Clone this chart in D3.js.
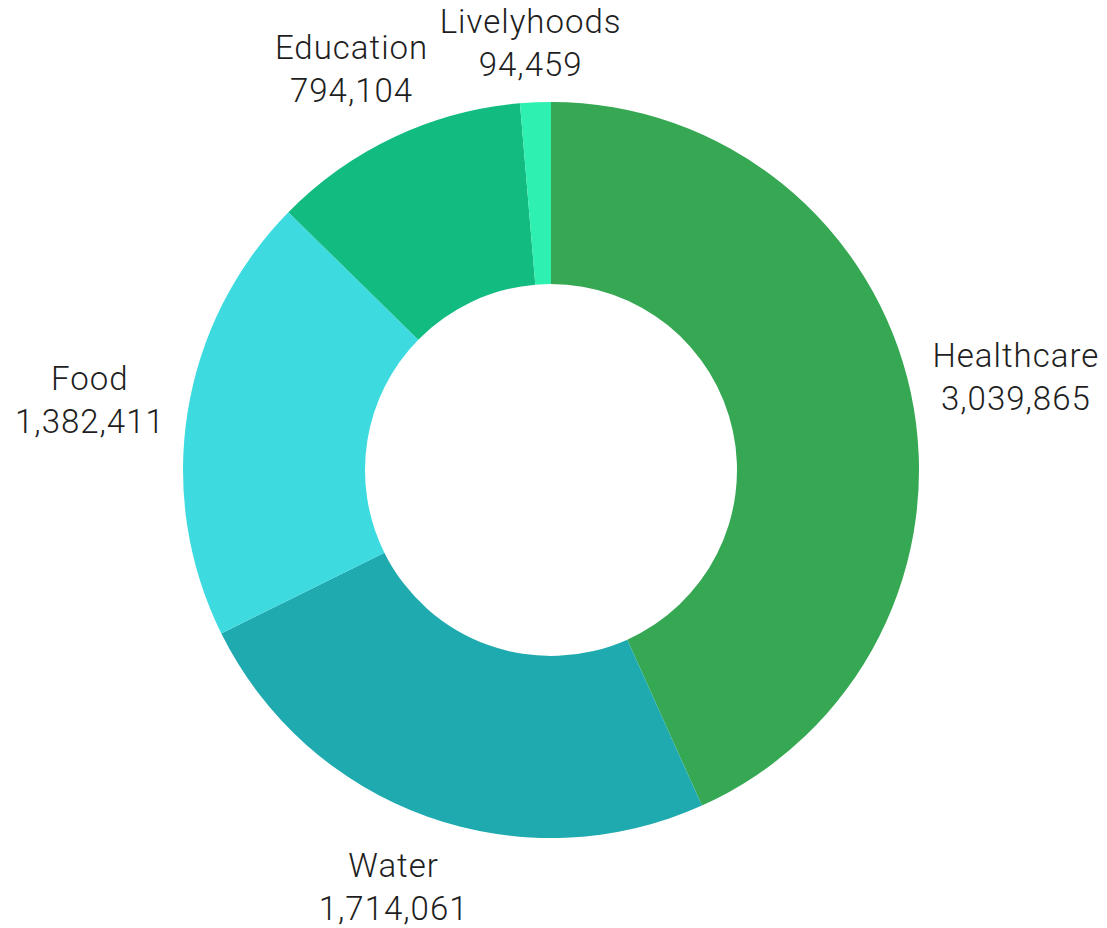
<!DOCTYPE html>
<html>
<head>
<meta charset="utf-8">
<script src="https://cdn.jsdelivr.net/npm/d3@7"></script>
<style>
  body { margin: 0; background: #fff; }
  text { font-family: Roboto, "DejaVu Sans", sans-serif; fill: #1e1e1e; font-weight: 300; letter-spacing: 1px; }
</style>
</head>
<body>
<svg width="1107" height="928"></svg>
<script>
var categories = ["Healthcare", "Water", "Food", "Education", "Livelyhoods"];
var values = [3039865, 1714061, 1382411, 794104, 94459];
var colors = ["#36a853", "#1eaaaf", "#3ddbe0", "#12bc80", "#2ef0b0"];

var svg = d3.select("svg"),
    width = +svg.attr("width"),
    height = +svg.attr("height");

var cx = 551, cy = 470,
    outerR = 368, innerR = 186, labelR = 392;

var data = categories.map(function (c, i) {
    return {name: c, value: values[i], color: colors[i]};
});

var pie = d3.pie()
    .sort(null)
    .value(function (d) { return d.value; });

var arc = d3.arc()
    .innerRadius(innerR)
    .outerRadius(outerR);

var g = svg.append("g")
    .attr("transform", "translate(" + cx + "," + cy + ")");

var arcs = pie(data);

g.selectAll("path")
    .data(arcs)
    .enter().append("path")
    .attr("d", arc)
    .style("fill", function (d) { return d.data.color; });

var fmt = d3.format(",");

var label = g.selectAll("g.label")
    .data(arcs)
    .enter().append("g")
    .attr("class", "label");

label.append("text")
    .attr("text-anchor", "middle")
    .style("font-size", "33px")
    .attr("y", -10)
    .text(function (d) { return d.data.name; });

label.append("text")
    .attr("text-anchor", "middle")
    .style("font-size", "33px")
    .attr("y", 33)
    .text(function (d) { return fmt(d.data.value); });

// place each label box just outside its slice, keep it inside the svg
label.attr("transform", function (d) {
    var a = (d.startAngle + d.endAngle) / 2;
    var bb = this.getBBox();
    var ax = Math.sin(a) * labelR, ay = -Math.cos(a) * labelR;
    var bx = ax + Math.sin(a) * bb.width / 2;
    var by = ay - Math.cos(a) * (bb.height / 2 + 10);
    var mid = bb.y + bb.height / 2;
    var top = cy + by - bb.height / 2;
    if (top < 2) by += 2 - top;
    return "translate(" + bx + "," + (by - mid) + ")";
});
</script>
</body>
</html>
